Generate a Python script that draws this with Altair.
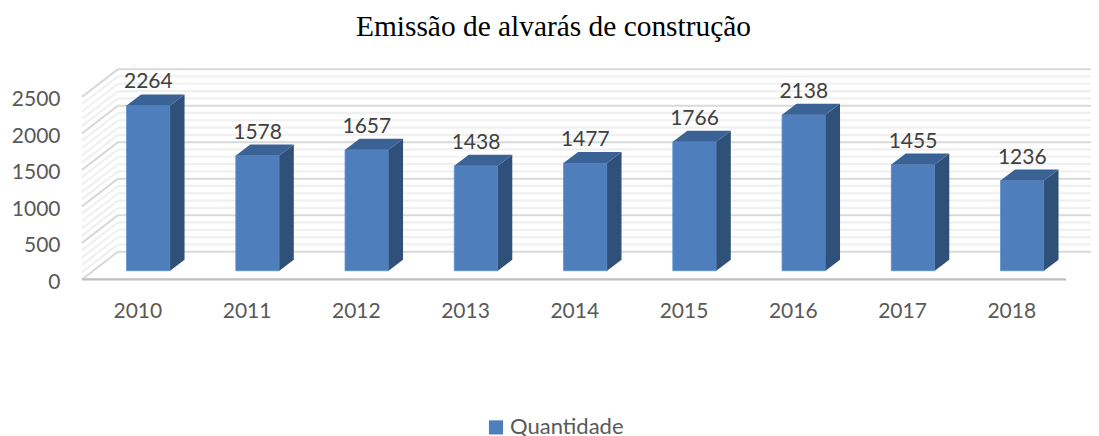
import altair as alt
import pandas as pd

years = [2010, 2011, 2012, 2013, 2014, 2015, 2016, 2017, 2018]
quantidade = [2264, 1578, 1657, 1438, 1477, 1766, 2138, 1455, 1236]
major_ticks = [0, 500, 1000, 1500, 2000, 2500]
minor_ticks = [v for v in range(0, 2501, 100) if v % 500 != 0]
series_name = "Quantidade"
title_text = "Emissão de alvarás de construção"

# Perspective of the 3D look, expressed in data units of the two scales
X_MIN, X_MAX = 2009.393, 2018.629
Y_MAX = 3000
FLOOR_END = 2018.4
WALL_DX, WALL_DY = 0.3295, 380
HALF_W = 0.199
BAR_LIFT = 119
BAR_DX, BAR_DY = 0.1327, 150

xs = alt.Scale(domain=[X_MIN, X_MAX], nice=False, zero=False)
ys = alt.Scale(domain=[0, Y_MAX], nice=False, zero=False)

x_axis = alt.Axis(values=years, format="d", labelFont="Lato", labelFontSize=21,
                  labelColor="#595959", labelOffset=-11, labelPadding=21,
                  domain=False, ticks=False, grid=False, labelFlush=False)
y_axis = alt.Axis(values=major_ticks, format="d", labelFont="Lato", labelFontSize=21,
                  labelColor="#595959", labelPadding=22, labelOffset=3, domain=False,
                  ticks=False, grid=False)


def X(field):
    return alt.X(f"{field}:Q", scale=xs, axis=x_axis, title=None)


def Y(field):
    return alt.Y(f"{field}:Q", scale=ys, axis=y_axis, title=None)


# Walls
def grid_layers(values, color, width):
    back = pd.DataFrame({"x": X_MIN + WALL_DX, "x2": X_MAX,
                         "y": [v + WALL_DY for v in values]})
    side = pd.DataFrame({"x": X_MIN, "x2": X_MIN + WALL_DX, "y": values,
                         "y2": [v + WALL_DY for v in values]})
    a = alt.Chart(back).mark_rule(color=color, strokeWidth=width).encode(
        x=X("x"), x2="x2:Q", y=Y("y"))
    b = alt.Chart(side).mark_rule(color=color, strokeWidth=width).encode(
        x=X("x"), x2="x2:Q", y=Y("y"), y2="y2:Q")
    return [a, b]


floor = alt.Chart(pd.DataFrame({"x": [X_MIN], "x2": [FLOOR_END], "y": [0]})).mark_rule(
    color="#bfbfbf", strokeWidth=2.2
).encode(x=X("x"), x2="x2:Q", y=Y("y"))

# Bars
front = pd.DataFrame({
    "year": years,
    "serie": series_name,
    "x": [y - HALF_W for y in years],
    "x2": [y + HALF_W for y in years],
    "y": BAR_LIFT,
    "y2": [v + BAR_LIFT for v in quantidade],
})
front_layer = alt.Chart(front).mark_rect(stroke="#5b8fcc", strokeWidth=0.8).encode(
    x=X("x"),
    x2="x2:Q",
    y=Y("y"),
    y2="y2:Q",
    color=alt.Color("serie:N", scale=alt.Scale(domain=[series_name], range=["#4e7fbc"]),
                    legend=alt.Legend(title=None, orient="none", legendX=403, legendY=356,
                                      symbolType="square", symbolSize=200, symbolStrokeWidth=0,
                                      labelFont="Lato", labelFontSize=22, labelColor="#595959",
                                      labelOffset=3)),
)

side_rows, top_rows = [], []
for yr, v in zip(years, quantidade):
    r = yr + HALF_W
    l = yr - HALF_W
    t = v + BAR_LIFT
    side_rows += [
        {"year": yr, "x": r, "y": BAR_LIFT, "y2": t},
        {"year": yr, "x": r + BAR_DX, "y": BAR_LIFT + BAR_DY, "y2": t + BAR_DY},
    ]
    top_rows += [
        {"year": yr, "y": t, "x": l, "x2": r},
        {"year": yr, "y": t + BAR_DY, "x": l + BAR_DX, "x2": r + BAR_DX},
    ]

side_layer = alt.Chart(pd.DataFrame(side_rows)).mark_area(
    orient="vertical", color="#2f5179", interpolate="linear"
).encode(x=X("x"), y=Y("y"), y2="y2:Q", detail="year:N")

top_layer = alt.Chart(pd.DataFrame(top_rows)).mark_area(
    orient="horizontal", color="#3b6294", interpolate="linear"
).encode(y=Y("y"), x=X("x"), x2="x2:Q", detail="year:N")

labels = pd.DataFrame({"x": years, "y": [v + BAR_LIFT + BAR_DY for v in quantidade],
                       "t": [str(v) for v in quantidade]})
text_layer = alt.Chart(labels).mark_text(
    font="Lato", fontSize=21, color="#404040", baseline="bottom", dy=-2
).encode(x=X("x"), y=Y("y"), text="t:N")

layers = (grid_layers(minor_ticks, "#f0f0f0", 2.2)
          + grid_layers(major_ticks, "#d9d9d9", 2)
          + [floor, front_layer, side_layer, top_layer, text_layer])

chart = alt.layer(*layers).properties(
    width=1009,
    height=219,
    padding={"left": 74, "top": 52.4, "right": 0, "bottom": 156.6},
    autosize=alt.AutoSizeParams(type="none"),
    background="white",
    title=alt.TitleParams(title_text, font="Liberation Serif", fontSize=29.4, fontWeight="normal",
                          color="#000000", anchor="middle", dx=-33, offset=18),
).configure_view(strokeWidth=0)

chart.save("out.html", embed_options={"renderer": "svg", "actions": False})
